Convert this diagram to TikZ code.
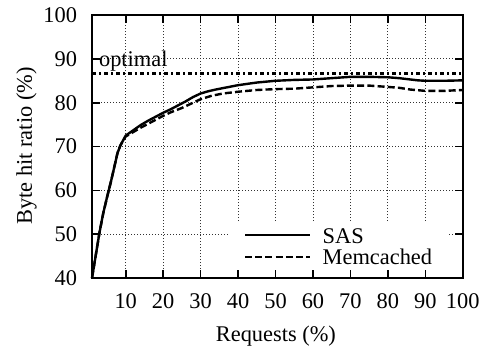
\documentclass[tikz,border=0pt]{standalone}
\usepackage{fontspec}
\setmainfont{Liberation Serif}

\begin{document}
\begin{tikzpicture}[x=1.8725pt, y=2.1917pt,
  font=\rmfamily\fontsize{11.2pt}{13pt}\selectfont,
  gridline/.style={black!80, line width=0.4pt, dash pattern=on 0.45pt off 1.05pt},
  frameline/.style={line width=1pt},
  tickline/.style={line width=0.8pt},
  sasline/.style={line width=1.2pt, line join=round},
  memline/.style={line width=1.2pt, dash pattern=on 3.5pt off 1.6pt},
  optline/.style={line width=1.2pt, dash pattern=on 2pt off 1.6pt on 0.8pt off 1.6pt},
  ticklbl/.style={inner sep=2pt}]
  \useasboundingbox (-23.57,23.12) rectangle (106.47,103.43);
  % grid
  \foreach \x in {10,20,...,90}
    \draw[gridline] (\x,40) -- (\x,100);
  \foreach \y in {50,60,...,90}
    \draw[gridline] (1,\y) -- (100,\y);
  % legend background hides the grid
  \fill[white] (37.3,40) rectangle (96.1,52.5);
  % optimal
  \draw[optline] (1,86.7) -- (100,86.7);
  \node[anchor=west] (optlbl) at (1,89.6) {optimal};
  % curves
  \draw[memline] plot coordinates {(1,40) (2,45.2) (3,50.4) (4,54.8) (5,58.4)
    (6,61.8) (7,65.5) (7.8,68.5) (8.6,70.3) (10,72.3) (12,73.3) (14,74.3)
    (16,75.2) (18,76.1) (20,77.0) (22,77.8) (25,78.8) (28,80.0) (30,80.8)
    (33,81.6) (36,82.1) (40,82.5) (45,82.9) (50,83.1) (55,83.2) (60,83.5)
    (65,83.8) (70,83.9) (75,83.9) (80,83.6) (83,83.4) (86,83.0) (90,82.7)
    (95,82.7) (100,82.9)};
  \draw[sasline] plot coordinates {(1,40) (2,45.2) (3,50.4) (4,54.8) (5,58.4)
    (6,61.8) (7,65.5) (7.8,68.5) (8.6,70.3) (10,72.5) (12,73.7) (14,74.9)
    (16,75.9) (18,76.8) (20,77.7) (22,78.5) (24,79.4) (26,80.3) (28,81.3)
    (30,82.1) (32,82.6) (34,83.0) (37,83.5) (40,84.0) (45,84.6)
    (50,85.0) (55,85.2) (60,85.3) (65,85.6) (70,85.9) (75,85.9) (80,85.8)
    (83,85.6) (86,85.3) (88,85.1) (90,85.0) (95,85.0) (100,85.1)};
  % frame and ticks
  \draw[frameline] (1,40) rectangle (100,100);
  \foreach \x in {10,20,...,90}
    \draw[tickline] (\x,40) -- ++(0,4pt) (\x,100) -- ++(0,-4pt);
  \foreach \y in {50,60,...,90}
    \draw[tickline] (1,\y) -- ++(4pt,0) (100,\y) -- ++(-4pt,0);
  \foreach \x in {10,20,...,100}
    \node[ticklbl, below=5.5pt] (xt\x) at (\x,40) {\x};
  \foreach \y in {40,50,...,100}
    \node[ticklbl, left=5.3pt] (yt\y) at (1,\y) {\y};
  % axis labels
  \node (xlabel) at (50.1,26.8) {Requests (\%)};
  \node[rotate=90] (ylabel) at (-16.5,70.1) {Byte hit ratio (\%)};
  % legend
  \node[anchor=west] (lgsas) at (60.7,49.5) {SAS};
  \node[anchor=west] (lgmem) at (60.7,44.8) {Memcached};
  \draw[sasline] (41.85,49.8) -- (59.2,49.8);
  \draw[memline, line width=1pt] (41.85,44.8) -- (59.2,44.8);
\end{tikzpicture}
\end{document}
